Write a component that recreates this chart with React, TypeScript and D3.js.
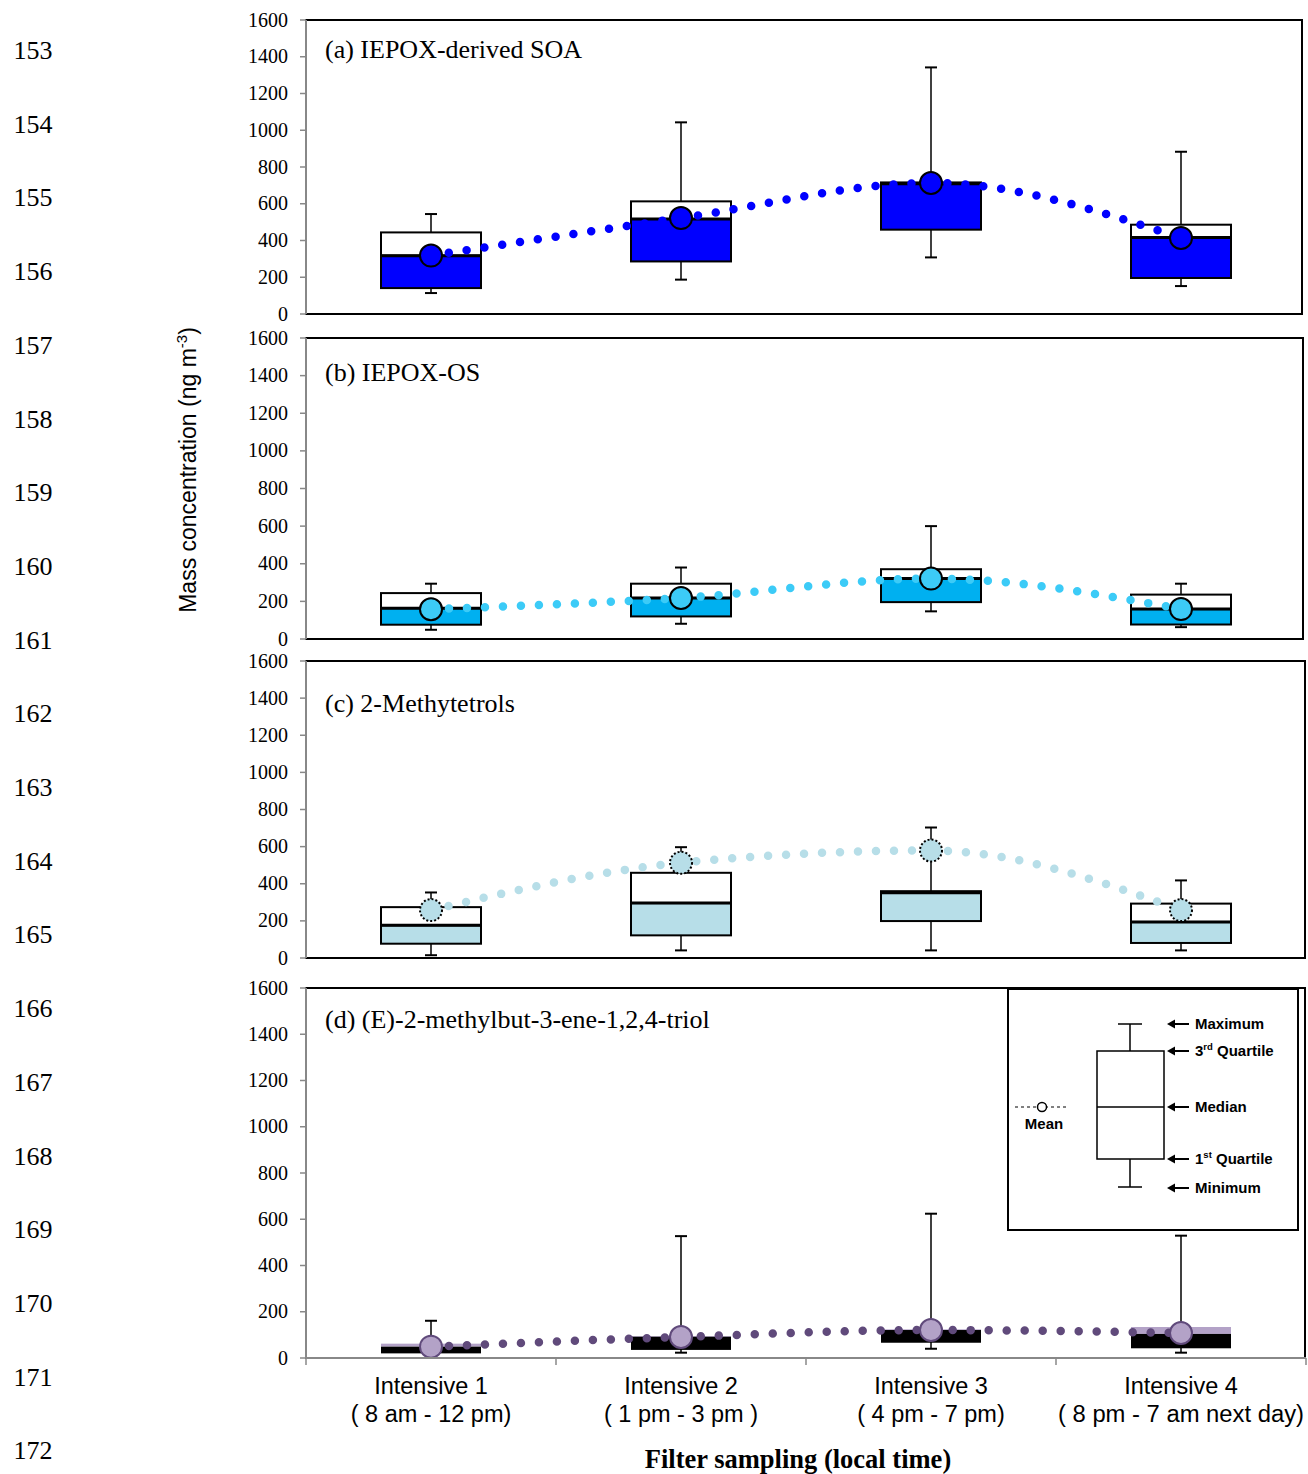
import * as d3 from 'd3';

const categories = ['Intensive 1', 'Intensive 2', 'Intensive 3', 'Intensive 4'];
const timeRanges = ['( 8 am - 12 pm)', '( 1 pm - 3 pm )', '( 4 pm - 7 pm)', '( 8 pm - 7 am next day)'];
const yTicks = [0, 200, 400, 600, 800, 1000, 1200, 1400, 1600];
const lineNumbers = ['153', '154', '155', '156', '157', '158', '159', '160', '161', '162',
  '163', '164', '165', '166', '167', '168', '169', '170', '171', '172'];

// (a) IEPOX-derived SOA
const soaMin = [114, 187, 308, 152];
const soaQ1 = [141, 286, 459, 196];
const soaMedian = [317, 517, 709, 417];
const soaQ3 = [444, 613, 716, 486];
const soaMax = [544, 1043, 1342, 883];
const soaMean = [318, 522, 713, 414];

// (b) IEPOX-OS
const osMin = [49, 81, 147, 63];
const osQ1 = [76, 120, 196, 77];
const osMedian = [164, 218, 321, 159];
const osQ3 = [244, 294, 371, 236];
const osMax = [294, 380, 600, 294];
const osMean = [158, 218, 321, 159];

// (c) 2-Methyltetrols
const mtMin = [15, 41, 41, 41];
const mtQ1 = [77, 122, 199, 81];
const mtMedian = [176, 296, 352, 194];
const mtQ3 = [274, 459, 360, 293];
const mtMax = [353, 597, 703, 418];
const mtMean = [258, 513, 579, 258];

// (d) (E)-2-methylbut-3-ene-1,2,4-triol
const trMin = [17, 23, 40, 23];
const trQ1 = [20, 35, 66, 42];
const trMedian = [49, 92, 121, 104];
const trQ3 = [62, 95, 124, 134];
const trMax = [161, 527, 624, 529];
const trMean = [49, 91, 121, 108];

const panels = [
  { label: '(a) IEPOX-derived SOA', top: 20, bottom: 314, right: 1302, labelDy: 38,
    min: soaMin, q1: soaQ1, med: soaMedian, q3: soaQ3, max: soaMax, mean: soaMean,
    lower: '#0000FF', upper: '#FFFFFF', boxStroke: '#000', dot: '#0000FF', meanFill: '#0000FF', meanStroke: '#000', meanDash: '' },
  { label: '(b) IEPOX-OS', top: 338, bottom: 639, right: 1303, labelDy: 43,
    min: osMin, q1: osQ1, med: osMedian, q3: osQ3, max: osMax, mean: osMean,
    lower: '#00B0F0', upper: '#FFFFFF', boxStroke: '#000', dot: '#3CCBF7', meanFill: '#3CCBF7', meanStroke: '#000', meanDash: '' },
  { label: '(c) 2-Methytetrols', top: 661, bottom: 958, right: 1305, labelDy: 51,
    min: mtMin, q1: mtQ1, med: mtMedian, q3: mtQ3, max: mtMax, mean: mtMean,
    lower: '#B7DEE8', upper: '#FFFFFF', boxStroke: '#000', dot: '#B7DEE8', meanFill: '#B7DEE8', meanStroke: '#000', meanDash: '2 2' },
  { label: '(d) (E)-2-methylbut-3-ene-1,2,4-triol', top: 988, bottom: 1358, right: 1305, labelDy: 40,
    min: trMin, q1: trQ1, med: trMedian, q3: trQ3, max: trMax, mean: trMean,
    lower: '#000000', upper: '#B3A2C7', boxStroke: 'none', dot: '#604A7B', meanFill: '#B3A2C7', meanStroke: '#604A7B', meanDash: '' },
];

const serif = '"Liberation Serif", "Times New Roman", serif';
const sans = '"Liberation Sans", Arial, sans-serif';

const x = d3.scaleBand().domain(categories).range([306, 1306]);
const boxW = x.bandwidth() * 0.4;
const cx = (c: string) => (x(c) as number) + x.bandwidth() / 2;

function Panel({ p, last }: { p: typeof panels[number]; last: boolean }) {
  const y = d3.scaleLinear().domain([0, 1600]).range([p.bottom, p.top]);
  const line = d3.line<number>()
    .x((_, i) => cx(categories[i]))
    .y((d) => y(d))
    .curve(d3.curveMonotoneX);
  return (
    <g>
      <rect x={306} y={p.top} width={p.right - 306} height={p.bottom - p.top} fill="#fff" stroke="#000" strokeWidth={2} />
      <line x1={306} x2={306} y1={p.top} y2={p.bottom} stroke="#888" strokeWidth={2} />
      {yTicks.map((t) => (
        <g key={t}>
          <line x1={300} x2={306} y1={y(t)} y2={y(t)} stroke="#888" strokeWidth={1.5} />
          <text x={288} y={y(t) + 6.5} textAnchor="end" fontFamily={serif} fontSize={20}>{t}</text>
        </g>
      ))}
      <text x={325} y={p.top + p.labelDy} fontFamily={serif} fontSize={26}>{p.label}</text>
      {categories.map((c, i) => {
        const xc = cx(c);
        return (
          <g key={c}>
            <line x1={xc} x2={xc} y1={y(p.max[i])} y2={y(p.min[i])} stroke="#000" strokeWidth={1.5} />
            <line x1={xc - 6} x2={xc + 6} y1={y(p.max[i])} y2={y(p.max[i])} stroke="#000" strokeWidth={2} />
            <line x1={xc - 6} x2={xc + 6} y1={y(p.min[i])} y2={y(p.min[i])} stroke="#000" strokeWidth={2} />
            <rect x={xc - boxW / 2} y={y(p.q3[i])} width={boxW} height={y(p.med[i]) - y(p.q3[i])}
              fill={p.upper} stroke={p.boxStroke} strokeWidth={2} />
            <rect x={xc - boxW / 2} y={y(p.med[i])} width={boxW} height={y(p.q1[i]) - y(p.med[i])}
              fill={p.lower} stroke={p.boxStroke} strokeWidth={2} />
            {p.boxStroke !== 'none' && (
              <line x1={xc - boxW / 2} x2={xc + boxW / 2} y1={y(p.med[i])} y2={y(p.med[i])} stroke="#000" strokeWidth={3} />
            )}
          </g>
        );
      })}
      <path d={line(p.mean) ?? ''} fill="none" stroke={p.dot} strokeWidth={8.5}
        strokeLinecap="round" strokeDasharray="0 18" />
      {categories.map((c, i) => (
        <circle key={c} cx={cx(c)} cy={y(p.mean[i])} r={11} fill={p.meanFill}
          stroke={p.meanStroke} strokeWidth={2} strokeDasharray={p.meanDash || undefined} />
      ))}
      {last && (
        <g>
          <line x1={306} x2={1306} y1={p.bottom} y2={p.bottom} stroke="#888" strokeWidth={2} />
          {[...categories.map((c) => x(c) as number), 1306].map((v) => (
            <line key={v} x1={v} x2={v} y1={p.bottom} y2={p.bottom + 7} stroke="#888" strokeWidth={1.5} />
          ))}
          {categories.map((c, i) => (
            <g key={c}>
              <text x={cx(c)} y={1394} textAnchor="middle" fontFamily={sans} fontSize={23.5}>{c}</text>
              <text x={cx(c)} y={1422} textAnchor="middle" fontFamily={sans} fontSize={23.5}
                textLength={i === 3 ? 246 : undefined} lengthAdjust="spacingAndGlyphs">{timeRanges[i]}</text>
            </g>
          ))}
        </g>
      )}
    </g>
  );
}

function Arrow({ yv, label, sup, rest }: { yv: number; label: string; sup?: string; rest?: string }) {
  return (
    <g>
      <line x1={1170} x2={1189} y1={yv} y2={yv} stroke="#000" strokeWidth={2} />
      <path d={`M1167,${yv} L1175,${yv - 4.5} L1175,${yv + 4.5} Z`} fill="#000" />
      <text x={1195} y={yv + 5} fontFamily={sans} fontWeight="bold" fontSize={15}>
        {label}
        {sup && <tspan fontSize={9.5} dy={-6}>{sup}</tspan>}
        {rest && <tspan dy={sup ? 6 : 0}>{rest}</tspan>}
      </text>
    </g>
  );
}

function Legend() {
  return (
    <g>
      <rect x={1008} y={989} width={290} height={241} fill="#fff" stroke="#000" strokeWidth={2} />
      <line x1={1130} x2={1130} y1={1024} y2={1187} stroke="#000" strokeWidth={1.5} />
      <line x1={1118} x2={1142} y1={1024} y2={1024} stroke="#000" strokeWidth={1.5} />
      <line x1={1118} x2={1142} y1={1187} y2={1187} stroke="#000" strokeWidth={1.5} />
      <rect x={1097} y={1051} width={67} height={108} fill="#fff" stroke="#000" strokeWidth={1.5} />
      <line x1={1097} x2={1164} y1={1107} y2={1107} stroke="#000" strokeWidth={1.5} />
      <line x1={1015} x2={1066} y1={1107} y2={1107} stroke="#000" strokeWidth={1} strokeDasharray="3 3" />
      <circle cx={1042} cy={1107} r={4.5} fill="#fff" stroke="#000" strokeWidth={1.5} />
      <text x={1044} y={1129} textAnchor="middle" fontFamily={sans} fontWeight="bold" fontSize={15}>Mean</text>
      <Arrow yv={1024} label="Maximum" />
      <Arrow yv={1051} label="3" sup="rd" rest=" Quartile" />
      <Arrow yv={1107} label="Median" />
      <Arrow yv={1159} label="1" sup="st" rest=" Quartile" />
      <Arrow yv={1188} label="Minimum" />
    </g>
  );
}

export default function App() {
  return (
    <svg width={1308} height={1474} style={{ position: 'absolute', left: 0, top: 0, display: 'block', background: '#fff' }}>
      <rect width={1308} height={1474} fill="#fff" />
      {lineNumbers.map((n, i) => (
        <text key={n} x={33} y={59 + i * 73.7} textAnchor="middle" fontFamily={serif} fontSize={26}>{n}</text>
      ))}
      {panels.map((p, i) => (
        <Panel key={p.label} p={p} last={i === panels.length - 1} />
      ))}
      <Legend />
      <text transform="translate(196,470) rotate(-90)" textAnchor="middle" fontFamily={sans} fontSize={23}>
        Mass concentration (ng m<tspan fontSize={15} dy={-9}>-3</tspan><tspan dy={9}>)</tspan>
      </text>
      <text x={798} y={1468} textAnchor="middle" fontFamily={serif} fontWeight="bold" fontSize={26.5}>
        Filter sampling (local time)
      </text>
    </svg>
  );
}
